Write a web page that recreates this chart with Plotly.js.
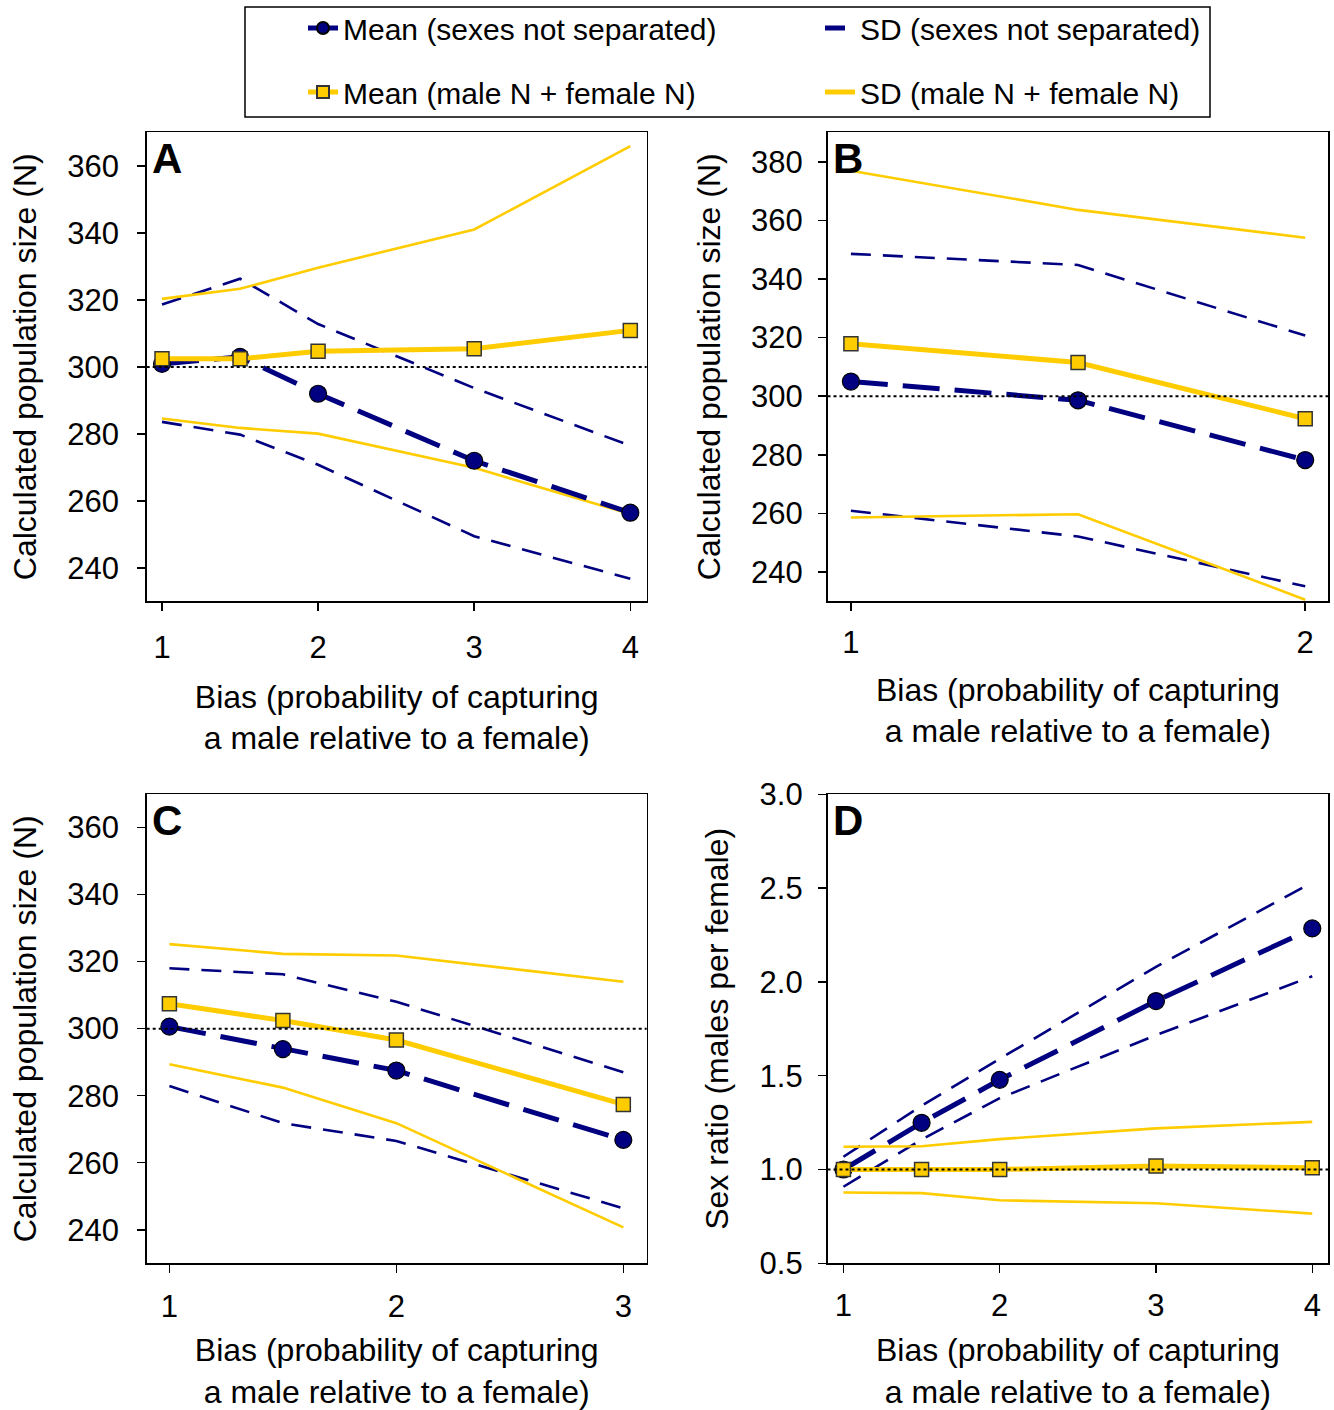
<!DOCTYPE html>
<html><head><meta charset="utf-8">
<script src="https://cdn.plot.ly/plotly-3.0.1.min.js"></script>
<style>html,body{margin:0;padding:0;background:#fff;overflow:hidden;width:1334px;height:1410px}#chart{width:1334px;height:1410px;overflow:hidden}</style>
</head><body><div id="chart"></div>
<script>
// ---------- Data ----------
// Panel A
const biasA = [1, 1.5, 2, 3, 4];
const meanPooledA = [300.9, 303.0, 292.0, 272.0, 256.5];
const sdPooledUpA = [318.6, 326.3, 312.8, 293.7, 276.5];
const sdPooledLoA = [283.6, 279.8, 270.8, 249.5, 236.8];
const meanSplitA = [302.4, 302.4, 304.7, 305.4, 310.9];
const sdSplitUpA = [320.3, 323.3, 329.6, 341.0, 365.9];
const sdSplitLoA = [284.6, 281.8, 280.1, 269.9, 256.1];
// Panel B
const biasB = [1, 1.5, 2];
const meanPooledB = [305.0, 298.6, 278.2];
const sdPooledUpB = [348.6, 344.8, 320.7];
const sdPooledLoB = [260.9, 252.1, 235.1];
const meanSplitB = [317.9, 311.5, 292.3];
const sdSplitUpB = [377.0, 363.6, 354.1];
const sdSplitLoB = [258.6, 259.7, 230.5];
// Panel C
const biasC = [1, 1.5, 2, 3];
const meanPooledC = [300.6, 293.9, 287.5, 266.8];
const sdPooledUpC = [318.0, 316.2, 308.0, 287.0];
const sdPooledLoC = [282.9, 271.8, 266.5, 246.4];
const meanSplitC = [307.4, 302.4, 296.6, 277.4];
const sdSplitUpC = [325.2, 322.3, 321.8, 314.0];
const sdSplitLoC = [289.4, 282.4, 271.8, 240.7];
// Panel D (sex ratio)
const biasD = [1, 1.5, 2, 3, 4];
const meanPooledD = [1.0, 1.249, 1.478, 1.898, 2.285];
const sdPooledUpD = [1.068, 1.34, 1.59, 2.08, 2.53];
const sdPooledLoD = [0.908, 1.16, 1.38, 1.716, 2.03];
const meanSplitD = [1.0, 1.0, 1.0, 1.018, 1.009];
const sdSplitUpD = [1.121, 1.124, 1.162, 1.219, 1.254];
const sdSplitLoD = [0.877, 0.874, 0.836, 0.82, 0.765];

const refN = 300;
const refRatio = 1.0;

const legendNames = ['Mean (sexes not separated)', 'SD (sexes not separated)',
                     'Mean (male N + female N)', 'SD (male N + female N)'];
const panelLetters = ['A', 'B', 'C', 'D'];
const xTitle = 'Bias (probability of capturing<br>a male relative to a female)';
const yTitleN = 'Calculated population size (N)';
const yTitleRatio = 'Sex ratio (males per female)';

// ---------- Styles ----------
const NAVY = '#000080';
const GOLD = '#FFCC00';
const FONT = 'Liberation Sans, Arial, sans-serif';

function panelTraces(x, mP, sPU, sPL, mS, sSU, sSL, xa, ya, legendOn) {
  const sdPooled = {color: NAVY, width: 2.6, dash: '20px,12px'};
  const sdSplit = {color: GOLD, width: 2.6};
  return [
    {x: x, y: sPU, xaxis: xa, yaxis: ya, mode: 'lines', line: sdPooled, name: legendNames[1],
     legendgroup: 'sdp', showlegend: legendOn, legend: 'legend2'},
    {x: x, y: sPL, xaxis: xa, yaxis: ya, mode: 'lines', line: sdPooled, name: legendNames[1],
     legendgroup: 'sdp', showlegend: false},
    {x: x, y: sSU, xaxis: xa, yaxis: ya, mode: 'lines', line: sdSplit, name: legendNames[3],
     legendgroup: 'sds', showlegend: legendOn, legend: 'legend4'},
    {x: x, y: sSL, xaxis: xa, yaxis: ya, mode: 'lines', line: sdSplit, name: legendNames[3],
     legendgroup: 'sds', showlegend: false},
    {x: x, y: mP, xaxis: xa, yaxis: ya, mode: 'lines+markers', name: legendNames[0],
     line: {color: NAVY, width: 5, dash: '37px,15px'},
     marker: {symbol: 'circle', size: 17, color: NAVY, line: {color: '#000', width: 1.2}},
     legendgroup: 'mp', showlegend: legendOn, legend: 'legend'},
    {x: x, y: mS, xaxis: xa, yaxis: ya, mode: 'lines+markers', name: legendNames[2],
     line: {color: GOLD, width: 5},
     marker: {symbol: 'square', size: 14, color: GOLD, line: {color: '#333', width: 1.5}},
     legendgroup: 'ms', showlegend: legendOn, legend: 'legend3'}
  ];
}

const data = [].concat(
  panelTraces(biasA, meanPooledA, sdPooledUpA, sdPooledLoA, meanSplitA, sdSplitUpA, sdSplitLoA, 'x', 'y', true),
  panelTraces(biasB, meanPooledB, sdPooledUpB, sdPooledLoB, meanSplitB, sdSplitUpB, sdSplitLoB, 'x2', 'y2', false),
  panelTraces(biasC, meanPooledC, sdPooledUpC, sdPooledLoC, meanSplitC, sdSplitUpC, sdSplitLoC, 'x3', 'y3', false),
  panelTraces(biasD, meanPooledD, sdPooledUpD, sdPooledLoD, meanSplitD, sdSplitUpD, sdSplitLoD, 'x4', 'y4', false)
);

const TICKSIZE = 31, TITLESIZE = 32;

function axisBase(extra) {
  return Object.assign({
    showline: true, mirror: true, linecolor: '#000', linewidth: 1.6,
    ticks: 'outside', ticklen: 8, tickwidth: 1.5, tickcolor: '#000',
    showgrid: false, zeroline: false, fixedrange: true,
    tickfont: {family: FONT, size: TICKSIZE, color: '#000'}
  }, extra);
}
function xAxis(dom, anchor, range, dtick, labelOff, standoff) {
  return axisBase({domain: dom, anchor: anchor, range: range, tickmode: 'linear', tick0: 1, dtick: dtick,
    ticklabelstandoff: labelOff,
    title: {text: xTitle, font: {family: FONT, size: TITLESIZE, color: '#000'}, standoff: standoff}});
}
function yAxis(dom, anchor, range, tick0, dtick, title, fmt, labelOff, standoff) {
  return axisBase({domain: dom, anchor: anchor, range: range, tickmode: 'linear', tick0: tick0, dtick: dtick,
    tickformat: fmt, ticklabelstandoff: labelOff,
    title: {text: title, font: {family: FONT, size: TITLESIZE, color: '#000'}, standoff: standoff}});
}

const W = 1334, H = 1410;
const colL = [146.7 / W, 646.7 / W];
const colR = [827.5 / W, 1328.2 / W];
const rowT = [1 - 601.2 / H, 1 - 132.3 / H];
const rowB = [1 - 1263.3 / H, 1 - 794.3 / H];

const dotLine = {color: '#000', width: 2, dash: 'dot'};
const shapes = [
  {type: 'line', xref: 'x domain', yref: 'y', x0: 0, x1: 1, y0: refN, y1: refN, layer: 'above', line: dotLine},
  {type: 'line', xref: 'x2 domain', yref: 'y2', x0: 0, x1: 1, y0: refN, y1: refN, layer: 'above', line: dotLine},
  {type: 'line', xref: 'x3 domain', yref: 'y3', x0: 0, x1: 1, y0: refN, y1: refN, layer: 'above', line: dotLine},
  {type: 'line', xref: 'x4 domain', yref: 'y4', x0: 0, x1: 1, y0: refRatio, y1: refRatio, layer: 'above', line: dotLine},
  // legend frame
  {type: 'rect', xref: 'paper', yref: 'paper', x0: 245 / W, x1: 1210 / W, y0: 1 - 117 / H, y1: 1 - 7 / H,
   line: {color: '#000', width: 1.5}, fillcolor: 'rgba(0,0,0,0)'}
];

const annotations = ['x', 'x2', 'x3', 'x4'].map((xa, i) => ({
  xref: xa + ' domain', yref: 'y' + xa.slice(1) + ' domain', x: 0.006, y: 0.998,
  xanchor: 'left', yanchor: 'top', showarrow: false, text: panelLetters[i],
  font: {family: FONT, size: 42, color: '#000', weight: 'bold'}
}));

const legendCommon = {
  orientation: 'v', xanchor: 'left', yanchor: 'top',
  font: {family: FONT, size: 30, color: '#000'}, bgcolor: 'rgba(0,0,0,0)', borderwidth: 0,
  itemsizing: 'constant', itemclick: false, itemdoubleclick: false
};
const legCol1 = 303 / W, legCol2 = 820 / W, legRow1 = 1 - 2 / H, legRow2 = 1 - 66 / H;

const layout = {
  width: W, height: H, margin: {l: 0, r: 0, t: 0, b: 0},
  paper_bgcolor: '#fff', plot_bgcolor: '#fff',
  font: {family: FONT, size: 28, color: '#000'},
  showlegend: true,
  legend: Object.assign({}, legendCommon, {x: legCol1, y: legRow1}),
  legend2: Object.assign({}, legendCommon, {x: legCol2, y: legRow1}),
  legend3: Object.assign({}, legendCommon, {x: legCol1, y: legRow2}),
  legend4: Object.assign({}, legendCommon, {x: legCol2, y: legRow2}),
  xaxis: xAxis(colL, 'y', [0.902, 4.105], 1, 10, 21),
  yaxis: yAxis(rowT, 'x', [230.1, 370.0], 240, 20, yTitleN, 'd', 12, 21),
  xaxis2: xAxis(colR, 'y2', [0.9485, 2.0506], 1, 5, 19),
  yaxis2: yAxis(rowT, 'x2', [230.0, 390.1], 240, 20, yTitleN, 'd', 9, 21),
  xaxis3: xAxis(colL, 'y3', [0.9, 3.103], 1, 7, 28),
  yaxis3: yAxis(rowB, 'x3', [230.0, 369.9], 240, 20, yTitleN, 'd', 12, 21),
  xaxis4: xAxis(colR, 'y4', [0.898, 4.102], 1, 6, 21),
  yaxis4: yAxis(rowB, 'x4', [0.5, 3.0], 0.5, 0.5, yTitleRatio, '.1f', 9, 21),
  shapes: shapes,
  annotations: annotations
};

Plotly.newPlot('chart', data, layout, {displayModeBar: false, staticPlot: true});
</script>
</body></html>
